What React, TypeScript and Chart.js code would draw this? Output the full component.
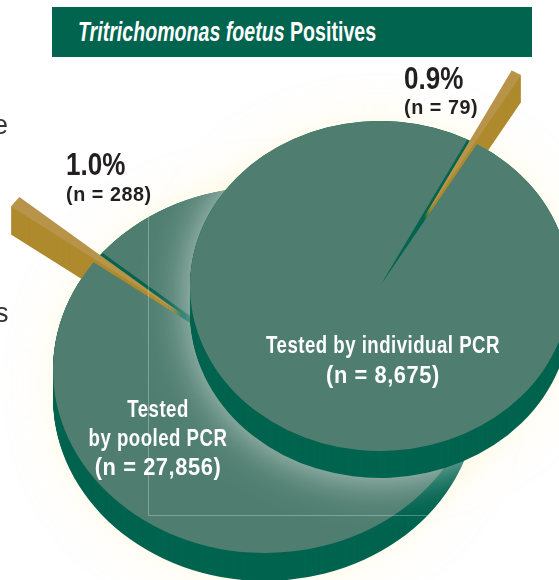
import React, { useEffect, useRef } from "react";
import { Chart, registerables } from "chart.js";

Chart.register(...registerables);

const pieCategories = ["Positive", "Negative"];
const pooledValues = [288, 27568];
const individualValues = [79, 8596];
const titleItalic = "Tritrichomonas foetus";
const titlePlain = "Positives";
const pooledLabel = ["Tested", "by pooled PCR", "(n = 27,856)"];
const individualLabel = ["Tested by individual PCR", "(n = 8,675)"];

const W = 559;
const H = 580;
const GREEN_TOP = "#4f7e70";
const GREEN_DARK = "#00644f";
const GOLD_TOP = "#b8944a";
const GOLD_SIDE = "#ae8a2d";
const FONT = '"Liberation Sans", Arial, sans-serif';

type Geo = { x: number; y: number; rx: number; ry: number; depth: number; tilt: number; explode: number; rotation: number };
const BACK: Geo = { x: 265, y: 370, rx: 212, ry: 183, depth: 28, tilt: 0, explode: 105, rotation: 306.1 };
const FRONT: Geo = { x: 380, y: 286, rx: 190, ry: 165, depth: 27, tilt: 0, explode: 91, rotation: 27.4 };

function silhouette(ctx: CanvasRenderingContext2D, g: Geo, shift: number) {
  for (const d of [0, g.depth / 2, g.depth]) {
    ctx.moveTo(g.x + shift + g.rx, g.y + d);
    ctx.ellipse(g.x + shift, g.y + d, g.rx, g.ry, g.tilt, 0, Math.PI * 2);
  }
}

function haloOf(ctx: CanvasRenderingContext2D, g: Geo, color: string, blur: number) {
  const far = 3000;
  ctx.save();
  ctx.shadowColor = color;
  ctx.shadowBlur = blur;
  ctx.shadowOffsetX = far;
  ctx.fillStyle = "#000";
  ctx.beginPath();
  silhouette(ctx, g, -far);
  ctx.fill();
  ctx.restore();
}

function piePlugin(g: Geo, isBack: boolean) {
  return {
    id: "extrudedPie",
    beforeDatasetsDraw(chart: any) {
      const ctx: CanvasRenderingContext2D = chart.ctx;
      const [slice, rest] = chart.getDatasetMeta(0).data;
      const mid = (slice.startAngle + slice.endAngle) / 2;
      const place = (d: number, ex: number) => {
        ctx.translate(g.x, g.y + d);
        ctx.rotate(g.tilt);
        ctx.scale(1, g.ry / g.rx);
        ctx.translate(Math.cos(mid) * ex - slice.x, Math.sin(mid) * ex - slice.y);
      };
      const wedgePath = (a: any) => {
        ctx.beginPath();
        ctx.moveTo(a.x, a.y);
        ctx.arc(a.x, a.y, a.outerRadius, a.startAngle, a.endAngle);
        ctx.closePath();
        ctx.fill();
      };
      for (let d = g.depth; d >= 0; d--) {
        ctx.save();
        place(d, 0);
        ctx.fillStyle = GREEN_DARK;
        wedgePath(slice);
        wedgePath(rest);
        ctx.restore();
      }
      for (let d = g.depth; d >= 1; d--) {
        ctx.save();
        place(d, g.explode);
        ctx.fillStyle = GOLD_SIDE;
        wedgePath(slice);
        ctx.restore();
      }
      ctx.save();
      place(0, g.explode);
      slice.draw(ctx);
      ctx.restore();
      ctx.save();
      place(0, 0);
      rest.draw(ctx);
      ctx.restore();

      if (isBack) {
        ctx.save();
        ctx.globalCompositeOperation = "source-atop";
        ctx.strokeStyle = "rgba(255,255,255,0.28)";
        ctx.lineWidth = 1;
        ctx.beginPath();
        ctx.moveTo(148.5, 190);
        ctx.lineTo(148.5, 515.5);
        ctx.lineTo(520, 515.5);
        ctx.stroke();
        haloOf(ctx, FRONT, "rgba(255,255,255,0.62)", 42);
        ctx.globalCompositeOperation = "destination-over";
        haloOf(ctx, BACK, "rgba(255,246,200,0.5)", 42);
        haloOf(ctx, FRONT, "rgba(255,246,200,0.5)", 42);
        ctx.restore();
      }
      return false;
    },
  };
}

function PieCanvas({ g, values, colors, isBack }: { g: Geo; values: number[]; colors: string[]; isBack: boolean }) {
  const ref = useRef<HTMLCanvasElement>(null);
  useEffect(() => {
    const chart = new Chart(ref.current as HTMLCanvasElement, {
      type: "pie",
      data: {
        labels: pieCategories,
        datasets: [{ data: values, backgroundColor: colors, borderWidth: 0 }],
      },
      options: {
        responsive: false,
        animation: false,
        events: [],
        radius: g.rx,
        rotation: g.rotation,
        layout: { autoPadding: false },
        plugins: { legend: { display: false }, tooltip: { enabled: false } },
      } as any,
      plugins: [piePlugin(g, isBack)],
    });
    return () => chart.destroy();
  }, []);
  return <canvas ref={ref} width={W} height={H} style={{ position: "absolute", left: 0, top: 0, display: "block" }} />;
}

function Text({ x, y, w, lines, size, lh, color, align, squeeze, spacing = 0.6 }: any) {
  return (
    <div
      style={{
        position: "absolute",
        left: x,
        top: y,
        width: w,
        textAlign: align,
        fontFamily: FONT,
        fontWeight: 700,
        fontSize: size,
        lineHeight: lh + "px",
        letterSpacing: spacing,
        color,
        whiteSpace: "nowrap",
      }}
    >
      {lines.map((l: string) => (
        <div
          key={l}
          style={{
            transform: `scaleX(${l.startsWith("(") && align === "center" ? 0.95 : squeeze})`,
            transformOrigin: align === "center" ? "50% 50%" : "0 50%",
          }}
        >
          {l}
        </div>
      ))}
    </div>
  );
}

export default function App() {
  useEffect(() => {
    document.body.style.margin = "0";
  }, []);
  return (
    <div style={{ position: "relative", width: W, height: H, overflow: "hidden", background: "#fff" }}>
      <PieCanvas g={BACK} values={pooledValues} colors={[GOLD_TOP, GREEN_TOP]} isBack={true} />
      <PieCanvas g={FRONT} values={individualValues} colors={[GOLD_TOP, GREEN_TOP]} isBack={false} />

      <div style={{ position: "absolute", left: 52, top: 7, width: 480, height: 50, background: GREEN_DARK }} />
      <div
        style={{
          position: "absolute",
          left: 78,
          top: 7,
          lineHeight: "50px",
          fontFamily: FONT,
          fontWeight: 700,
          fontSize: 28,
          color: "#fff",
          whiteSpace: "nowrap",
          transform: "scaleX(0.7)",
          transformOrigin: "0 50%",
        }}
      >
        <span style={{ fontStyle: "italic" }}>{titleItalic}</span> <span>{titlePlain}</span>
      </div>

      <div style={{ position: "absolute", left: -7, top: 110, fontFamily: FONT, fontSize: 27, lineHeight: "30px", color: "#333" }}>{"e"}</div>
      <div style={{ position: "absolute", left: -5, top: 298, fontFamily: FONT, fontSize: 27, lineHeight: "30px", color: "#333" }}>{"s"}</div>

      <Text x={66} y={149} w={80} lines={["1.0%"]} size={31} lh={32} color="#231f20" align="left" squeeze={0.84} spacing={0} />
      <Text x={66} y={182} w={100} lines={["(n = 288)"]} size={21} lh={24} color="#231f20" align="left" squeeze={0.94} />
      <Text x={404} y={63} w={80} lines={["0.9%"]} size={31} lh={32} color="#231f20" align="left" squeeze={0.84} spacing={0} />
      <Text x={404} y={95} w={100} lines={["(n = 79)"]} size={21} lh={24} color="#231f20" align="left" squeeze={0.94} />

      <Text x={233} y={330} w={300} lines={individualLabel} size={23} lh={30} color="#fff" align="center" squeeze={0.81} />
      <Text x={58} y={395} w={200} lines={pooledLabel} size={23} lh={29} color="#fff" align="center" squeeze={0.81} />
    </div>
  );
}
